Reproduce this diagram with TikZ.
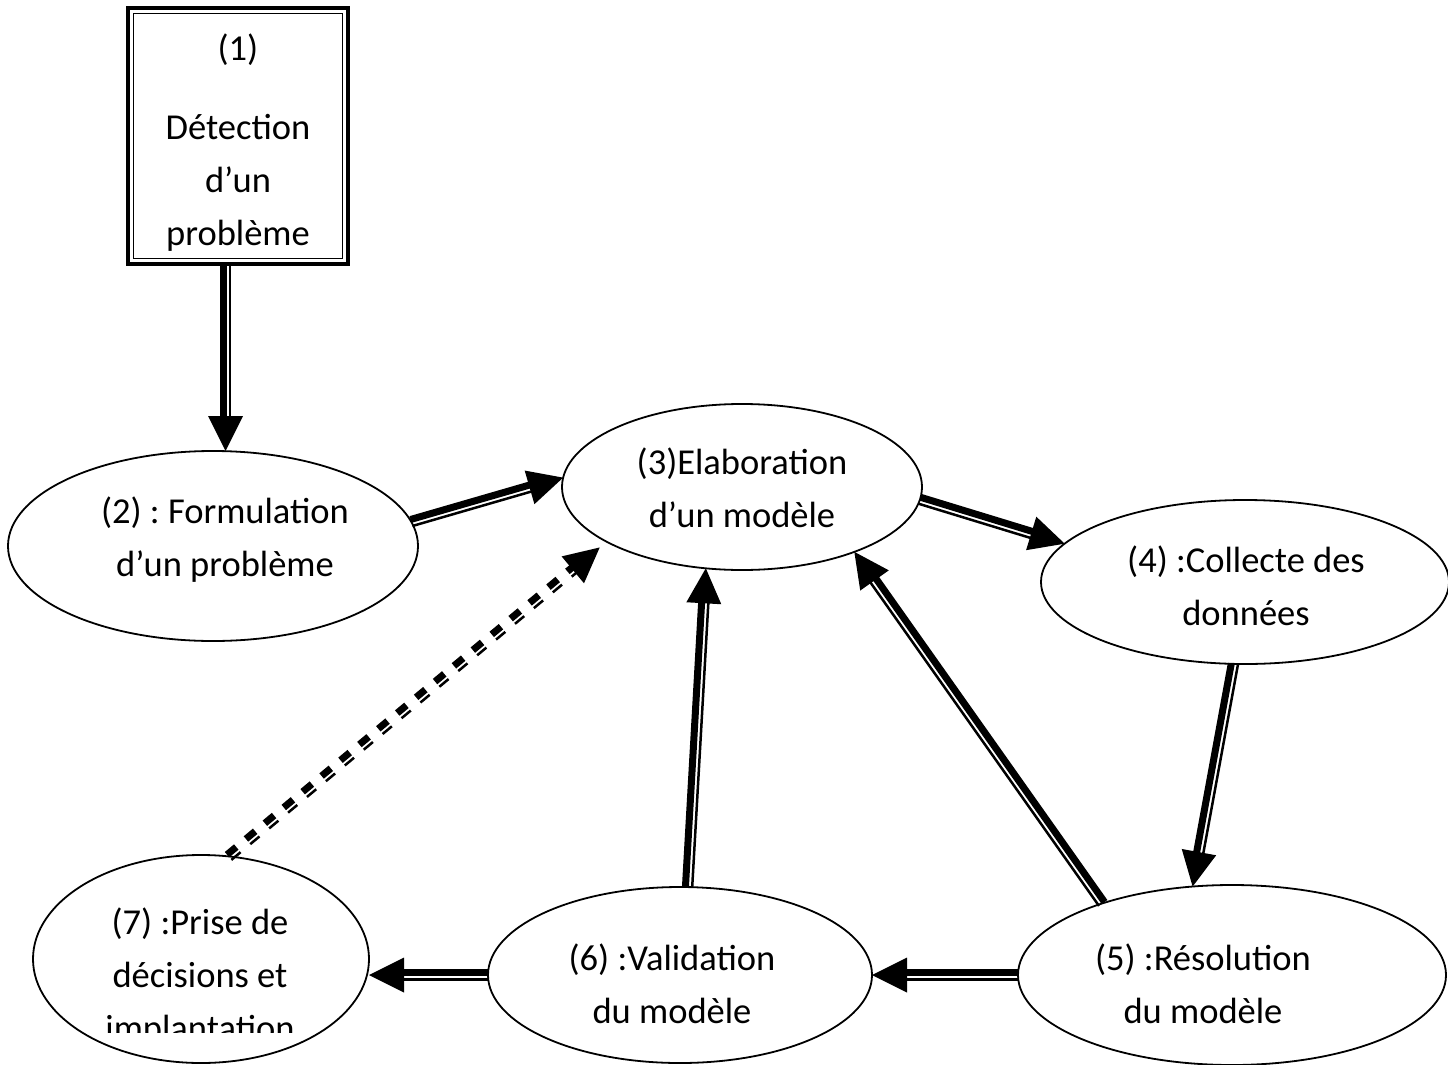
\documentclass[tikz,border=0pt]{standalone}
\usepackage{fontspec}
\setmainfont{Carlito}
\usetikzlibrary{calc,shapes.geometric}
\frenchspacing

% Arrow made of a thick and a thin parallel stroke with a solid triangular head.
% #1 extra style for both strokes, #2 start, #3 tip,
% #4 side of the thin stroke (angle), #5 side of the thick stroke (angle)
\newcommand\pairarrow[5][]{%
  \coordinate (aS) at (#2);
  \coordinate (aT) at (#3);
  \coordinate (aB) at ($(aT)!34pt!(aS)$);
  \coordinate (aH) at ($(aT)!35pt!(aS)$);
  \draw[thickpart,#1] ($(aS)!2.25pt!#5:(aT)$) -- ($(aB)!2.25pt!#5:(aT)$);
  \draw[thinpart,#1] ($(aS)!4.5pt!#4:(aT)$) -- ($(aB)!4.5pt!#4:(aT)$);
  \fill ($(aH)!17.5pt!90:(aT)$) -- (aT) -- ($(aH)!17.5pt!-90:(aT)$) -- cycle;
}

\begin{document}
\begin{tikzpicture}[x=1pt,y=-1pt,
  stage/.style={draw, ellipse, line width=1.8pt, inner sep=0pt, outer sep=0pt},
  txt/.style={align=center, font=\fontsize{36.5}{53}\selectfont, inner sep=0pt},
  thickpart/.style={line width=7pt},
  thinpart/.style={line width=2.5pt},
  gapdash/.style={dash pattern=on 12pt off 12.6pt}]

\useasboundingbox (0,0) rectangle (1448,1065);

% starting box with a double frame
\node[draw, line width=3.5pt, minimum width=220pt, minimum height=256pt,
      inner sep=0pt, outer sep=0pt] (b1) at (238,136) {};
\draw[line width=1.8pt] ($(b1.north west)+(5.5,5.5)$) rectangle ($(b1.south east)+(-5.5,-5.5)$);
\node[txt] (t1) at (238,143) {(1)\\[26pt]Détection\\d’un\\problème};

% stages
\node[stage, minimum width=410pt, minimum height=190pt] (e2) at (213,546) {};
\node[stage, minimum width=360pt, minimum height=166pt] (e3) at (742,487) {};
\node[stage, minimum width=408pt, minimum height=164pt] (e4) at (1245,582) {};
\node[stage, minimum width=428pt, minimum height=180pt] (e5) at (1232,975) {};
\node[stage, minimum width=384pt, minimum height=176pt] (e6) at (680,975) {};
\node[stage, minimum width=336pt, minimum height=208pt] (e7) at (201,959) {};

\node[txt] (t2) at (225,540) {(2) : Formulation\\d’un problème};
\node[txt] (t3) at (742,488) {(3)Elaboration\\d’un modèle};
\node[txt] (t4) at (1246,586) {(4) :Collecte des\\données};
\node[txt] (t5) at (1203,984) {(5) :Résolution\\du modèle};
\node[txt] (t6) at (672,984) {(6) :Validation\\du modèle};
\begin{scope}
  \clip (0,0) rectangle (1448,1032);
  \node[txt] (t7) at (200,977) {(7) :Prise de\\décisions et\\implantation};
\end{scope}

% connectors
\coordinate (s12) at ($(b1.south)+(-12.5,0)$);
\coordinate (d73) at ($(e3.202)!9pt!(e7.75)$);

\pairarrow{s12}{s12 |- e2.north}{90}{-90}
\pairarrow{e2.7}{e3.177}{-90}{90}
\pairarrow{e3.-4}{e4.168}{-90}{90}
\pairarrow{e4.262}{e5.114}{90}{-90}
\pairarrow{e5.151}{e3.-30}{90}{-90}
\pairarrow{e6.85}{e3.246}{-90}{90}
\pairarrow{e5.west}{e6.east}{90}{-90}
\pairarrow{e6.west}{e6.west -| e7.east}{90}{-90}
\pairarrow[gapdash]{e7.75}{d73}{-90}{90}

\end{tikzpicture}
\end{document}
